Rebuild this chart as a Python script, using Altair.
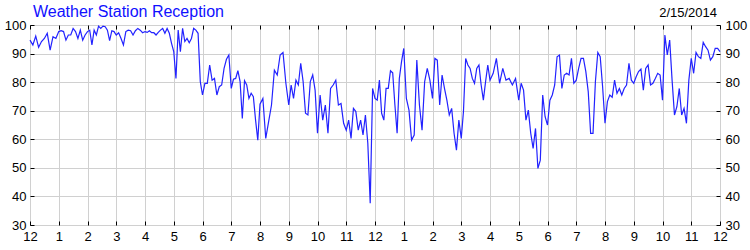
import altair as alt
import pandas as pd

title_text = "Weather Station Reception"
date_text = "2/15/2014"

start_value = 94.7
r00 = [93, 96.1, 92.2, 94.2, 95.3, 97.1, 91.2, 95.9, 95.3, 97.7]
r01 = [98, 97.7, 94.7, 96.5, 96.5, 98.8, 97.7, 95.3, 98.2, 94.7, 96.5, 97.7]
r02 = [98.2, 93, 98.2, 96.5, 99.6, 98.8, 99.6, 99.4, 98.2, 94.5, 98, 97.7, 96.5]
r03 = [97.3, 95.3, 93, 97.7, 98.2, 98, 96.5, 98, 98.8, 98.2, 97.3, 97.7]
r04 = [97.4, 98, 97.3, 97.3, 96.5, 97.4, 98.2, 98.8, 97.1, 98.8, 97.1, 93.6, 90.7]
r05 = [81.3, 98.2, 90.7, 98.8, 94.2, 95.3, 93.8, 95.3, 98.8, 98.2, 97.1, 80.2, 75.5]
r06 = [79.6, 79.6, 86, 80.7, 81.3, 75.5, 78.4, 79, 84.8, 88, 89.5, 77.8]
r07 = [81, 81.3, 84, 80.2, 67.3, 80.5, 79, 74.3, 76.1, 74.9, 66.7, 59.7, 72.3]
r08 = [74.3, 60.3, 66.2, 72, 84.2, 82.5, 89.5, 90.4, 79.6, 72]
r09 = [79, 74.3, 80.7, 79, 86.6, 80.2, 69.1, 68.5, 80.2, 82.5, 77.2, 62.1]
r10 = [75.5, 66.7, 72, 62.1, 77.8, 79, 80.7, 72, 72.5, 65.6, 63.2]
r11 = [66.7, 60.3, 70.8, 69.7, 63.2, 66.7, 61.5, 68.5, 58.6, 37.6, 77.8, 74.3]
r12 = [73.7, 80.7, 69.1, 66.7, 77.8, 77.8, 84, 83.3, 72, 62.1, 81.3, 87.2, 91.8]
r13 = [74.3, 70.2, 59.7, 61.5, 87.7, 72, 63.2, 80.2, 84.8, 80.7, 74.3]
r14 = [88.3, 87.7, 72, 82.5, 77.8, 73.7, 68.5, 70.8, 62.1, 56.2, 66.7, 60.3]
r15 = [69.7, 88.3, 86, 84.8, 81.3, 79.6, 84.8, 86, 79, 73.7, 80.2, 86, 80.7]
r16 = [83.1, 88.3, 79.6, 84.8, 80.7, 81.3, 79, 81.3, 73.7]
r17 = [79.6, 77.2, 66.7, 70.2, 62.1, 56.8, 63.8, 49.8, 52.7, 75.5, 67.9, 65]
r18 = [73.7, 75.5, 79, 88.9, 89.5, 77.8, 82.5, 83.1, 82.5, 88.3, 79.6, 80.7]
r19 = [84.8, 88.3, 88.3, 83.7, 76.7, 62.1, 62.1, 80.2, 90.4, 88.9, 78.4, 65.6]
r20 = [73.2, 75.5, 74.7, 80.7, 76.1, 77.8, 75.5, 77.8, 79, 86.6, 80.7, 79.6]
r21 = [81.9, 83.7, 84.6, 77.2, 84.8, 86, 79, 79.6, 81.3, 83.1, 82.5, 73.7]
r22 = [96.5, 89.5, 94.7, 80.7, 68.5, 71.4, 77.8, 68.5, 70.8, 65.6, 80.7, 88.3]
r23 = [83.1, 90.4, 88.9, 88.3, 93.9, 92.4, 91.2, 87.7, 88.9, 91.8, 91.8, 90.7]

hours = [r00, r01, r02, r03, r04, r05, r06, r07, r08, r09, r10, r11,
         r12, r13, r14, r15, r16, r17, r18, r19, r20, r21, r22, r23]

rows = [{"t": 0.0, "v": start_value}]
for h, vals in enumerate(hours):
    n = len(vals)
    for i, v in enumerate(vals):
        rows.append({"t": h + (i + 1) / n, "v": v})
df = pd.DataFrame(rows)

hour_ticks = list(range(0, 25))
y_ticks = list(range(30, 101, 10))
FONT = "Liberation Sans"
label_expr = "datum.value % 12 == 0 ? '12' : '' + (datum.value % 12)"

xscale = alt.Scale(domain=[0, 24], nice=False, zero=False)
yscale = alt.Scale(domain=[30, 100], nice=False, zero=False)

common = dict(domain=False, ticks=True, tickSize=4, offset=-4, tickColor="black",
              labelFontSize=13, labelColor="black", labelFont=FONT,
              labelOverlap=False, labelFlush=False, labelBound=False)

line = alt.Chart(df).mark_line(color="#2222ff", strokeWidth=1.2).encode(
    x=alt.X("t:Q", scale=xscale, title=None,
            axis=alt.Axis(orient="bottom", values=hour_ticks, labelExpr=label_expr,
                          labelPadding=5, grid=True, gridColor="#d0d0d0", **common)),
    y=alt.Y("v:Q", scale=yscale, title=None,
            axis=alt.Axis(orient="left", values=y_ticks, labelPadding=4,
                          grid=True, gridColor="#d0d0d0", **common)),
)

ghost = alt.Chart(df).mark_line(opacity=0).encode(
    x=alt.X("t:Q", scale=xscale, title=None,
            axis=alt.Axis(orient="top", values=hour_ticks, labels=False,
                          grid=False, **common)),
    y=alt.Y("v:Q", scale=yscale, title=None,
            axis=alt.Axis(orient="right", values=y_ticks, labelPadding=5,
                          grid=False, **common)),
)

title_mark = alt.Chart(pd.DataFrame({"label": [title_text]})).mark_text(
    align="left", baseline="alphabetic", dx=3, dy=-8, fontSize=16,
    font=FONT, color="#1010ff"
).encode(x=alt.XDatum(0, scale=xscale, axis=None),
         y=alt.YDatum(100, scale=yscale, axis=None), text="label:N")

date_mark = alt.Chart(pd.DataFrame({"label": [date_text]})).mark_text(
    align="right", baseline="alphabetic", dx=-3, dy=-8, fontSize=13,
    font=FONT, color="black"
).encode(x=alt.XDatum(24, scale=xscale, axis=None),
         y=alt.YDatum(100, scale=yscale, axis=None), text="label:N")

chart = alt.layer(line, ghost, title_mark, date_mark).resolve_scale(
    x="independent", y="independent"
).properties(
    width=690, height=200,
    padding={"left": 30, "top": 25, "right": 30, "bottom": 25},
    autosize="none",
    background="white",
).configure_view(stroke="black", strokeWidth=1)

chart.save("out.html", embed_options={"renderer": "svg", "actions": False})
